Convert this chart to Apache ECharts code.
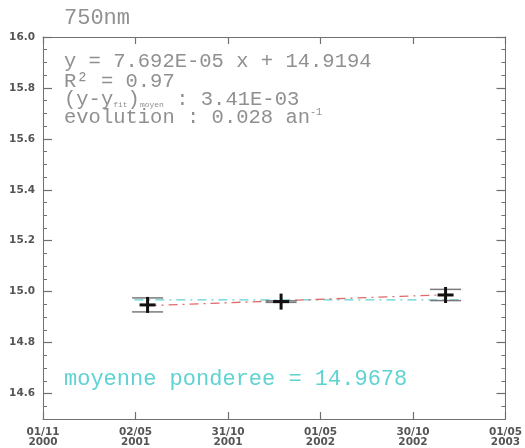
<!DOCTYPE html>
<html>
<head>
<meta charset="utf-8">
<script src="https://cdn.jsdelivr.net/npm/echarts@6/dist/echarts.min.js"></script>
<style>html,body{margin:0;padding:0;background:#fff}#c{width:525px;height:448px}</style>
</head>
<body>
<div id="c"></div>
<script>
// ---- data (x in days since 01/11/2000) ----
const xTickLabels = ['01/11\n2000','02/05\n2001','31/10\n2001','01/05\n2002','30/10\n2002','01/05\n2003'];
const xMaxDays = 911;
const yMajorTicks = [14.6, 14.8, 15.0, 15.2, 15.4, 15.6, 15.8, 16.0];
const pointDays = [206, 469, 793];
const pointValues = [14.948, 14.961, 14.987];
const pointErrors = [0.0275, 0.003, 0.022];
const fitDays = [206, 793];
const fitValues = [14.945, 14.988];
const meanDays = [180, 826];
const meanValue = 14.9678;

const xInterval = xMaxDays / (xTickLabels.length - 1);
const gray = '#909090';
const frame = '#707070';
const cyan = '#5fd2d2';
const red = '#e06a6a';
const mono = '"Liberation Mono", monospace';

const chart = echarts.init(document.getElementById('c'), null, {renderer: 'canvas'});

function yAxisBase(pos, major) {
  return {
    type: 'value', position: pos, min: 14.5, max: 16.0,
    interval: 0.05,
    splitLine: {show: false},
    axisLine: {show: !major, lineStyle: {color: frame, width: 1}},
    axisTick: major
      ? {show: true, inside: true, length: 9, customValues: yMajorTicks, lineStyle: {color: frame, width: 1.2}}
      : {show: true, inside: true, length: 4, lineStyle: {color: frame, width: 1}},
    axisLabel: {show: false}
  };
}

const yLeft = yAxisBase('left', false);
yLeft.axisLabel = {
  show: true, margin: 8, color: '#555', fontSize: 10.5, fontWeight: 'bold',
  fontFamily: 'DejaVu Sans',
  formatter: v => (Math.abs(v * 5 - Math.round(v * 5)) < 1e-6 && v > 14.55) ? v.toFixed(1) : ''
};

const data = pointDays.map((d, i) => [d, pointValues[i], pointErrors[i]]);

const option = {
  animation: false,
  backgroundColor: '#fff',
  grid: {left: 43, right: 18, top: 37, bottom: 29},
  xAxis: [
    {
      type: 'value', position: 'bottom', min: 0, max: xMaxDays, interval: xInterval,
      splitLine: {show: false},
      axisLine: {lineStyle: {color: frame, width: 1}},
      axisTick: {inside: true, length: 7, lineStyle: {color: frame, width: 1.2}},
      axisLabel: {
        margin: 9, color: '#555', fontSize: 10.5, fontWeight: 'bold', fontFamily: 'DejaVu Sans',
        lineHeight: 9.5, showMinLabel: true, showMaxLabel: true,
        formatter: v => xTickLabels[Math.round(v / xInterval)] || ''
      }
    },
    {
      type: 'value', position: 'top', min: 0, max: xMaxDays, interval: xInterval,
      splitLine: {show: false},
      axisLine: {lineStyle: {color: frame, width: 1}},
      axisTick: {inside: true, length: 7, lineStyle: {color: frame, width: 1.2}},
      axisLabel: {show: false}
    }
  ],
  yAxis: [yLeft, yAxisBase('left', true), yAxisBase('right', false), yAxisBase('right', true)],
  series: [
    {
      type: 'line', name: 'moyenne', symbol: 'none', silent: true,
      data: meanDays.map(d => [d, meanValue]),
      lineStyle: {color: cyan, width: 1.3, type: [9, 5, 2, 5]}, z: 2
    },
    {
      type: 'line', name: 'fit', symbol: 'none', silent: true,
      data: fitDays.map((d, i) => [d, fitValues[i]]),
      lineStyle: {color: red, width: 1.3, type: [9, 5, 2, 5]}, z: 3
    },
    {
      type: 'custom', name: 'mesures', z: 4,
      data: data,
      renderItem: function (params, api) {
        const x = api.value(0), y = api.value(1), e = api.value(2);
        const c = api.coord([x, y]);
        const t = api.coord([x, y + e]);
        const b = api.coord([x, y - e]);
        const cw = 15.5, pw = 8, ph = 8;
        return {
          type: 'group',
          children: [
            {type: 'line', shape: {x1: c[0] - cw, y1: t[1], x2: c[0] + cw, y2: t[1]}, style: {stroke: '#7a7a7a', lineWidth: 1.5}},
            {type: 'line', shape: {x1: c[0] - cw, y1: b[1], x2: c[0] + cw, y2: b[1]}, style: {stroke: '#7a7a7a', lineWidth: 1.5}},
            {type: 'line', shape: {x1: c[0], y1: c[1] - ph, x2: c[0], y2: c[1] + ph}, style: {stroke: '#111', lineWidth: 3}},
            {type: 'line', shape: {x1: c[0] - pw, y1: c[1], x2: c[0] + pw, y2: c[1]}, style: {stroke: '#111', lineWidth: 3}}
          ]
        };
      }
    }
  ],
  graphic: [
    {type: 'text', left: 64, top: 7, style: {text: '750nm', font: '22px ' + mono, fill: gray}},
    {type: 'text', left: 64, top: 51, style: {text: 'y = 7.692E-05 x + 14.9194', font: '20.5px ' + mono, fill: gray}},
    {type: 'text', left: 64, top: 71, style: {text: 'R² = 0.97', font: '20.5px ' + mono, fill: gray}},
    {type: 'text', left: 64, top: 89, style: {
      text: '(y-y{s|fit}){s|moyen} : 3.41E-03', font: '20.5px ' + mono, fill: gray,
      rich: {s: {fontSize: 8, fontFamily: mono, fill: gray, padding: [10, 0, 0, 0]}}
    }},
    {type: 'text', left: 64, top: 107, style: {
      text: 'evolution : 0.028 an{p|-1}', font: '20.5px ' + mono, fill: gray,
      rich: {p: {fontSize: 10, fontFamily: mono, fill: gray, padding: [0, 0, 10, 0]}}
    }},
    {type: 'text', left: 64, top: 368, style: {text: 'moyenne ponderee = 14.9678', font: '22px ' + mono, fill: cyan}}
  ]
};
chart.setOption(option);
</script>
</body>
</html>
